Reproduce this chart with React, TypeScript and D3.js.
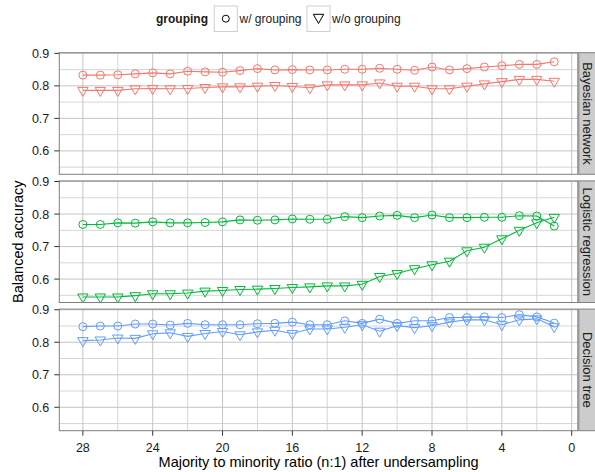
import React from 'react';
import * as d3 from 'd3';

// majority:minority ratio after undersampling (x)
const ratios = [28, 27, 26, 25, 24, 23, 22, 21, 20, 19, 18, 17, 16, 15, 14, 13, 12, 11, 10, 9, 8, 7, 6, 5, 4, 3, 2, 1];

const bayesWith = [0.833, 0.833, 0.834, 0.837, 0.840, 0.837, 0.845, 0.843, 0.842, 0.847, 0.853, 0.849, 0.850,
  0.849, 0.849, 0.851, 0.851, 0.854, 0.851, 0.848, 0.858, 0.849, 0.853, 0.858, 0.862, 0.866, 0.866, 0.874];
const bayesWithout = [0.786, 0.786, 0.786, 0.791, 0.792, 0.791, 0.792, 0.795, 0.797, 0.797, 0.799, 0.801, 0.798,
  0.794, 0.803, 0.803, 0.803, 0.809, 0.799, 0.799, 0.791, 0.791, 0.799, 0.806, 0.813, 0.820, 0.820, 0.814];

const lrWith = [0.768, 0.768, 0.773, 0.772, 0.776, 0.773, 0.773, 0.774, 0.776, 0.782, 0.781, 0.782, 0.785,
  0.784, 0.784, 0.792, 0.789, 0.794, 0.796, 0.789, 0.797, 0.789, 0.789, 0.790, 0.790, 0.795, 0.794, 0.763];
const lrWithout = [0.545, 0.545, 0.545, 0.549, 0.555, 0.555, 0.557, 0.563, 0.565, 0.568, 0.569, 0.571, 0.574,
  0.576, 0.579, 0.579, 0.584, 0.608, 0.617, 0.632, 0.644, 0.655, 0.687, 0.698, 0.724, 0.750, 0.773, 0.790];

const dtWith = [0.848, 0.850, 0.850, 0.856, 0.856, 0.853, 0.858, 0.854, 0.854, 0.854, 0.857, 0.858, 0.862,
  0.854, 0.854, 0.866, 0.858, 0.871, 0.858, 0.866, 0.866, 0.876, 0.876, 0.878, 0.876, 0.885, 0.878, 0.859];
const dtWithout = [0.805, 0.807, 0.813, 0.812, 0.826, 0.829, 0.818, 0.827, 0.833, 0.823, 0.832, 0.837, 0.827,
  0.841, 0.841, 0.846, 0.854, 0.834, 0.851, 0.845, 0.851, 0.862, 0.869, 0.869, 0.854, 0.869, 0.872, 0.848];

const panelNames = ['Bayesian network', 'Logistic regression', 'Decision tree'];
const panelColors = ['#F8766D', '#00BA38', '#619CFF'];
const withSeries = [bayesWith, lrWith, dtWith];
const withoutSeries = [bayesWithout, lrWithout, dtWithout];

const xTicks = [28, 24, 20, 16, 12, 8, 4, 0];
const xMinor = [26, 22, 18, 14, 10, 6, 2];
const yTicks = [0.6, 0.7, 0.8, 0.9];
const yMinor = [0.55, 0.65, 0.75, 0.85];

const FONT = '"Liberation Sans", Arial, Helvetica, sans-serif';
const W = 595, H = 472;
const left = 59.3, right = 577.8;
const panelTop = 52.7, panelH = 121.6, panelStep = 128.2;

// downward triangle, R pch 6 style
const triPath = (cx: number, cy: number, r = 6, xc = 5.2, yc = 3) =>
  `M${cx - xc},${cy - yc}L${cx + xc},${cy - yc}L${cx},${cy + r}Z`;

export default function App() {
  const x = d3.scaleLinear().domain([29.35, -0.35]).range([left, right]);

  const panels = panelNames.map((name, i) => {
    const top = panelTop + i * panelStep;
    const y = d3.scaleLinear().domain([0.528, 0.902]).range([top + panelH, top]);
    const line = d3.line<number>().x((_, k) => x(ratios[k])).y((d) => y(d));
    const col = panelColors[i];
    return (
      <g key={name}>
        <rect x={left} y={top} width={right - left} height={panelH} fill="#fff" />
        {yMinor.map((v) => (
          <line key={'ym' + v} x1={left} x2={right} y1={y(v)} y2={y(v)} stroke="#d6d6d6" strokeWidth={1} />
        ))}
        {xMinor.map((v) => (
          <line key={'xm' + v} x1={x(v)} x2={x(v)} y1={top} y2={top + panelH} stroke="#d6d6d6" strokeWidth={1} />
        ))}
        {yTicks.map((v) => (
          <line key={'yg' + v} x1={left} x2={right} y1={y(v)} y2={y(v)} stroke="#c4c4c4" strokeWidth={1} />
        ))}
        {xTicks.map((v) => (
          <line key={'xg' + v} x1={x(v)} x2={x(v)} y1={top} y2={top + panelH} stroke="#c4c4c4" strokeWidth={1} />
        ))}
        <path d={line(withSeries[i]) || ''} fill="none" stroke={col} strokeWidth={1.1} />
        <path d={line(withoutSeries[i]) || ''} fill="none" stroke={col} strokeWidth={1.1} />
        {withSeries[i].map((v, k) => (
          <circle key={'c' + k} cx={x(ratios[k])} cy={y(v)} r={4} fill="none" stroke={col} strokeWidth={1} />
        ))}
        {withoutSeries[i].map((v, k) => (
          <path key={'t' + k} d={triPath(x(ratios[k]), y(v))} fill="none" stroke={col} strokeWidth={1} />
        ))}
        <rect x={left} y={top} width={right - left} height={panelH} fill="none" stroke="#7f7f7f" strokeWidth={1} />
        {yTicks.map((v) => (
          <g key={'yt' + v}>
            <line x1={left - 5} x2={left} y1={y(v)} y2={y(v)} stroke="#333" strokeWidth={1} />
            <text x={left - 10} y={y(v)} dy="0.36em" textAnchor="end" fontSize={12.5} fill="#1a1a1a">{v.toFixed(1)}</text>
          </g>
        ))}
        <rect x={right + 1} y={top} width={20} height={panelH} fill="#cccccc" stroke="#7f7f7f" strokeWidth={1} />
        <text transform={`translate(${right + 10},${top + panelH / 2}) rotate(90)`} textAnchor="middle" dy="0.36em"
          fontSize={13} fill="#1a1a1a">{name}</text>
      </g>
    );
  });

  const bottom = panelTop + 2 * panelStep + panelH;

  return (
    <svg width={W} height={H} style={{ position: 'absolute', left: 0, top: 0 }} fontFamily={FONT}>
      <rect width={W} height={H} fill="#fff" />
      {/* legend */}
      <text x={208} y={22.5} textAnchor="end" fontSize={12} fontWeight="bold" fill="#1a1a1a">grouping</text>
      <rect x={214.3} y={6} width={23} height={25.5} fill="#fff" stroke="#cfcfcf" strokeWidth={1} />
      <circle cx={225.8} cy={18.7} r={3.5} fill="none" stroke="#000" strokeWidth={1} />
      <text x={239.5} y={22.5} fontSize={12} fill="#1a1a1a">w/ grouping</text>
      <rect x={307} y={6} width={23} height={25.5} fill="#fff" stroke="#cfcfcf" strokeWidth={1} />
      <path d={triPath(318.5, 17.5, 6, 5.2, 3.2)} fill="none" stroke="#000" strokeWidth={1} />
      <text x={332} y={22.5} fontSize={12} fill="#1a1a1a">w/o grouping</text>

      {panels}

      {xTicks.map((v) => (
        <g key={'xt' + v}>
          <line x1={x(v)} x2={x(v)} y1={bottom} y2={bottom + 5} stroke="#333" strokeWidth={1} />
          <text x={x(v)} y={451.5} textAnchor="middle" fontSize={12.5} fill="#1a1a1a">{v}</text>
        </g>
      ))}
      <text x={(left + right) / 2} y={467} textAnchor="middle" fontSize={14.5} fill="#000">
        Majority to minority ratio (n:1) after undersampling
      </text>
      <text transform={`translate(23,${(panelTop + bottom) / 2}) rotate(-90)`} textAnchor="middle" fontSize={14.5} fill="#000">
        Balanced accuracy
      </text>
    </svg>
  );
}
